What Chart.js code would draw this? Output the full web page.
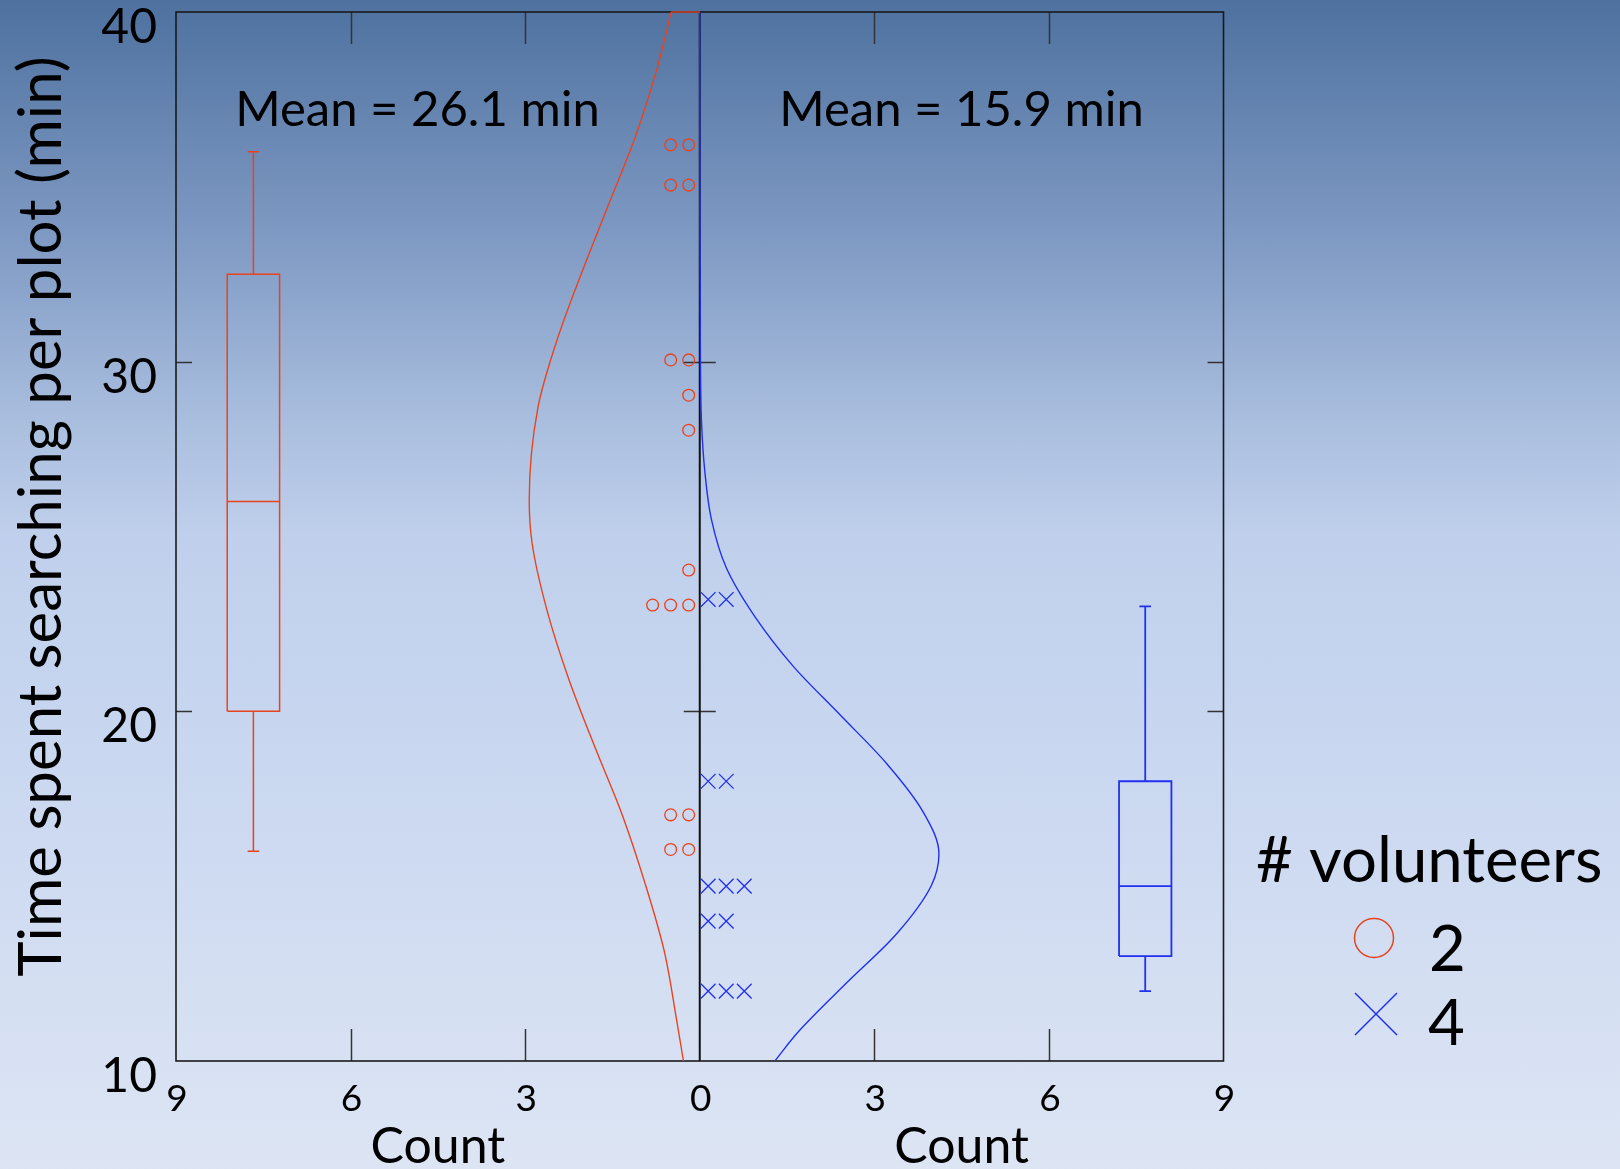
<!DOCTYPE html>
<html><head><meta charset="utf-8">
<script src="https://cdn.jsdelivr.net/npm/chart.js@4.4.1/dist/chart.umd.min.js"></script>
<style>
html,body{margin:0;padding:0;width:1620px;height:1169px;overflow:hidden;
background:linear-gradient(to bottom,#4e719f 0%,#7e99c3 20%,#a7bcdd 35%,#c0d0ec 46%,#c9d7f0 65%,#dde5f4 100%);}
canvas{display:block}
</style></head><body>
<canvas id="c" width="1620" height="1169"></canvas>
<script>
// ---------- data ----------
const xTickValues = [-9, -6, -3, 0, 3, 6, 9];
const xTickLabels = ['9', '6', '3', '0', '3', '6', '9'];
const yTickValues = [10, 20, 30, 40];
const yTickLabels = ['10', '20', '30', '40'];

// dot rows: time (min) and number of dots in the row
const redRowTimes  = [36.2, 35.05, 30.05, 29.04, 28.04, 24.04, 23.04, 17.04, 16.05];
const redRowCounts = [2, 2, 2, 1, 1, 1, 3, 2, 2];
const blueRowTimes  = [23.2, 18.0, 15.0, 14.0, 12.0];
const blueRowCounts = [2, 2, 3, 2, 3];

// fitted density curves (time -> count)
const redCurveTime  = [40, 38.41, 36.46, 34.52, 32.58, 30.63, 28.69, 26.03, 24.8, 22.86, 20.92, 18.97, 17.03, 15.08, 13.14, 11.2, 10];
const redCurveCount = [-0.49, -0.73, -1.10, -1.56, -2.02, -2.45, -2.78, -2.93, -2.88, -2.62, -2.25, -1.80, -1.33, -0.94, -0.61, -0.40, -0.28];
const blueCurveTime  = [40, 35, 30, 28.28, 26.88, 25.49, 24.09, 22.7, 21.3, 19.9, 18.51, 17.12, 15.93, 15.02, 13.63, 12.23, 10.83, 10];
const blueCurveCount = [0, 0.002, 0.012, 0.03, 0.086, 0.2, 0.46, 0.95, 1.6, 2.41, 3.21, 3.84, 4.11, 3.98, 3.38, 2.52, 1.69, 1.29];

// box plots: [min, q1, median, q3, max]
const redBox  = [16.0, 20.0, 26.0, 32.5, 36.0];
const blueBox = [12.0, 13.0, 15.0, 18.0, 23.0];

const redMeanText = 'Mean = 26.1 min';
const blueMeanText = 'Mean = 15.9 min';
const legendTitle = '# volunteers';
const legendLabels = ['2', '4'];
const yTitle = 'Time spent searching per plot (min)';
const xTitle = 'Count';

// ---------- styling / layout ----------
const RED = '#e8431f';
const BLUE = '#2030ee';
const FONT = 'Lato, "Open Sans", sans-serif';
const redBoxX = -7.67, blueBoxX = 7.655, boxHalf = 0.45, capHalf = 0.1;
const dotStart = 0.19, dotStep = 0.31, crossStart = 0.145;

function rowPoints(times, counts, sign, start) {
  const pts = [];
  times.forEach((t, i) => {
    for (let k = 0; k < counts[i]; k++) pts.push({x: sign * (start + dotStep * k), y: t});
  });
  return pts;
}
function curvePoints(times, counts) { return times.map((t, i) => ({x: counts[i], y: t})); }
function seg(x1, y1, x2, y2, color, w, clip) {
  const d = {data: [{x: x1, y: y1}, {x: x2, y: y2}], showLine: true, borderColor: color,
    borderWidth: w, pointRadius: 0, tension: 0, fill: false};
  if (clip === false) d.clip = false;
  return d;
}
function boxDatasets(cx, b, color, w) {
  const [mn, q1, md, q3, mx] = b;
  return [
    seg(cx, mn, cx, q1, color, w), seg(cx, q3, cx, mx, color, w),
    seg(cx - capHalf, mn, cx + capHalf, mn, color, w), seg(cx - capHalf, mx, cx + capHalf, mx, color, w),
    {data: [{x: cx - boxHalf, y: q1}, {x: cx + boxHalf, y: q1}, {x: cx + boxHalf, y: q3}, {x: cx - boxHalf, y: q3}, {x: cx - boxHalf, y: q1}],
     showLine: true, borderColor: color, borderWidth: w, pointRadius: 0, tension: 0, fill: false},
    seg(cx - boxHalf, md, cx + boxHalf, md, color, w)
  ];
}
function curveDataset(times, counts, color) {
  return {type: 'line', indexAxis: 'y', data: curvePoints(times, counts), borderColor: color,
    borderWidth: 1.4, pointRadius: 0, cubicInterpolationMode: 'monotone', fill: false};
}

const datasets = [
  curveDataset(redCurveTime, redCurveCount, RED),
  seg(redCurveCount[0], 40, 0, 40, RED, 1.4, false),
  curveDataset(blueCurveTime, blueCurveCount, BLUE),
  {data: rowPoints(redRowTimes, redRowCounts, -1, dotStart), showLine: false, pointStyle: 'circle', pointRadius: 5.9,
   borderColor: RED, backgroundColor: 'rgba(0,0,0,0)', pointBorderWidth: 1.3, borderWidth: 1.3},
  {data: rowPoints(blueRowTimes, blueRowCounts, 1, crossStart), showLine: false, pointStyle: 'crossRot', pointRadius: 10.4,
   borderColor: BLUE, backgroundColor: BLUE, pointBorderWidth: 1.3, borderWidth: 1.3},
  ...boxDatasets(redBoxX, redBox, RED, 1.5),
  ...boxDatasets(blueBoxX, blueBox, BLUE, 1.8)
];

const deco = {
  id: 'deco',
  beforeDatasetsDraw(chart) {
    const {ctx, chartArea: a, scales: {x, y}} = chart;
    const line = (x1, y1, x2, y2) => { ctx.beginPath(); ctx.moveTo(x1, y1); ctx.lineTo(x2, y2); ctx.stroke(); };
    ctx.save();
    const cx = x.getPixelForValue(0);
    ctx.strokeStyle = '#333'; ctx.lineWidth = 1.5;
    xTickValues.forEach(v => {
      if (v === 0 || Math.abs(v) === 9) return;
      const px = Math.round(x.getPixelForValue(v)) + 0.5;
      line(px, a.bottom, px, a.bottom - 32);
      line(px, a.top, px, a.top + 32);
    });
    yTickValues.forEach(v => {
      if (v === 10 || v === 40) return;
      const py = Math.round(y.getPixelForValue(v)) + 0.5;
      line(a.left, py, a.left + 16, py);
      line(a.right, py, a.right - 16, py);
      line(cx - 16, py, cx + 16, py);
    });
    ctx.strokeStyle = '#111'; ctx.lineWidth = 2;
    line(cx, a.top, cx, a.bottom);
    ctx.lineWidth = 1.6; ctx.strokeStyle = '#1a1a1a';
    ctx.strokeRect(a.left, a.top, a.right - a.left, a.bottom - a.top);
    ctx.restore();
  },
  afterDraw(chart) {
    const {ctx, chartArea: a, scales: {x, y}} = chart;
    ctx.save();
    ctx.fillStyle = '#000';
    // y tick labels
    ctx.font = `48px ${FONT}`; ctx.textAlign = 'right'; ctx.textBaseline = 'alphabetic';
    yTickValues.forEach((v, i) => ctx.fillText(yTickLabels[i], 157, y.getPixelForValue(v) + 31));
    // x tick labels
    ctx.font = `37px ${FONT}`; ctx.textAlign = 'center';
    xTickValues.forEach((v, i) => ctx.fillText(xTickLabels[i], x.getPixelForValue(v) + 1, 1110.5));
    // x titles
    ctx.font = `50px ${FONT}`;
    ctx.fillText(xTitle, (a.left + x.getPixelForValue(0)) / 2, 1163);
    ctx.fillText(xTitle, (a.right + x.getPixelForValue(0)) / 2, 1163);
    // mean labels
    ctx.font = `49px ${FONT}`;
    ctx.fillText(redMeanText, 417.5, 125.5);
    ctx.fillText(blueMeanText, 961.5, 125.5);
    // y title
    ctx.save();
    ctx.translate(61, 516.5); ctx.rotate(-Math.PI / 2);
    ctx.font = `60px ${FONT}`; ctx.textAlign = 'center';
    ctx.fillText(yTitle, 0, 0);
    ctx.restore();
    // legend
    ctx.textAlign = 'left';
    ctx.font = `63.5px ${FONT}`;
    ctx.fillText(legendTitle, 1256, 881.7);
    ctx.fillText(legendLabels[0], 1429, 970.7);
    ctx.fillText(legendLabels[1], 1428, 1045);
    ctx.lineWidth = 1.5;
    ctx.strokeStyle = RED;
    ctx.beginPath(); ctx.arc(1374, 938, 19.5, 0, Math.PI * 2); ctx.stroke();
    ctx.strokeStyle = BLUE;
    ctx.beginPath();
    ctx.moveTo(1355, 993); ctx.lineTo(1397, 1035);
    ctx.moveTo(1397, 993); ctx.lineTo(1355, 1035);
    ctx.stroke();
    ctx.restore();
  }
};

new Chart(document.getElementById('c'), {
  type: 'scatter',
  data: {datasets},
  options: {
    responsive: false, animation: false, events: [],
    layout: {padding: {left: 176, right: 396.5, top: 12, bottom: 108}},
    scales: {
      x: {type: 'linear', min: -9, max: 9, display: false},
      y: {type: 'linear', min: 10, max: 40, display: false}
    },
    plugins: {legend: {display: false}, tooltip: {enabled: false}}
  },
  plugins: [deco]
});
</script>
</body></html>
